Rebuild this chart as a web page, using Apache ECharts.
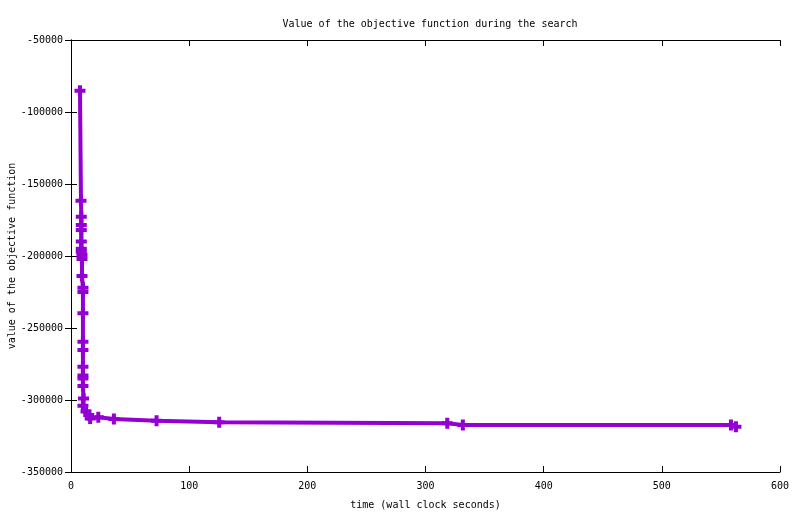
<!DOCTYPE html>
<html>
<head>
<meta charset="utf-8">
<script src="https://cdn.jsdelivr.net/npm/echarts@6/dist/echarts.min.js"></script>
<style>html,body{margin:0;padding:0;background:#fff}#c{width:800px;height:514px}</style>
</head>
<body>
<div id="c"></div>
<script>
const titleText = 'Value of the objective function during the search';
const xName = 'time (wall clock seconds)';
const yName = 'value of the objective function';
const times = [7.6, 8.45, 8.7, 8.7, 8.7, 8.7, 8.7, 8.7, 9.3, 9.3, 9.3, 10.1, 10.1, 10.1, 10.1, 10.1, 10.1, 10.1, 10.1, 10.1, 10.6, 10.1, 12.7, 15.0, 16.2, 23.1, 36.3, 72.4, 125.4, 318.4, 331.6, 558.5, 562.7];
const values = [-85200, -161600, -172700, -178500, -182000, -190000, -195000, -197000, -199300, -202100, -213900, -222000, -225000, -239800, -259500, -265300, -276900, -283000, -285000, -290300, -299000, -304000, -308000, -310500, -312800, -312000, -313200, -314400, -315500, -316200, -317400, -317400, -318500];
const xTicks = {min: 0, max: 600, interval: 100};
const yTicks = {min: -350000, max: -50000, interval: 50000};

const data = times.map((t, i) => [t, values[i]]);
const font = '"DejaVu Sans Mono", "Liberation Mono", monospace';
const chart = echarts.init(document.getElementById('c'));
const axLine = {show: true, lineStyle: {color: '#000', width: 1}};
const tick = {show: true, inside: true, length: 6, lineStyle: {color: '#000', width: 1}};
const plain = v => String(v);
chart.setOption({
  animation: false,
  backgroundColor: '#fff',
  title: {text: titleText, left: 425, top: 14, textAlign: 'center',
    textStyle: {fontFamily: font, fontSize: 10, fontWeight: 'normal', color: '#000'}},
  grid: {left: 71, right: 20, top: 40, bottom: 42, containLabel: false, outerBoundsMode: 'none'},
  graphic: [{
    type: 'text', x: 12, y: 256, rotation: Math.PI / 2,
    style: {text: yName, fontFamily: font, fontSize: 10, fill: '#000', align: 'center', verticalAlign: 'middle'}
  }],
  xAxis: [
    {type: 'value', min: xTicks.min, max: xTicks.max, interval: xTicks.interval,
      name: xName, nameLocation: 'middle', nameGap: 28,
      nameTextStyle: {fontFamily: font, fontSize: 10, color: '#000'},
      axisLine: axLine, axisTick: tick, splitLine: {show: false},
      axisLabel: {fontFamily: font, fontSize: 10, color: '#000', margin: 9, formatter: plain}},
    {type: 'value', position: 'top', min: xTicks.min, max: xTicks.max, interval: xTicks.interval,
      axisLine: axLine, axisTick: tick, splitLine: {show: false}, axisLabel: {show: false}}
  ],
  yAxis: [
    {type: 'value', min: yTicks.min, max: yTicks.max, interval: yTicks.interval,
      axisLine: axLine, axisTick: tick, splitLine: {show: false},
      axisLabel: {fontFamily: font, fontSize: 10, color: '#000', margin: 8, formatter: plain}},
    {type: 'value', position: 'right', min: yTicks.min, max: yTicks.max, interval: yTicks.interval,
      axisLine: axLine, axisTick: tick, splitLine: {show: false}, axisLabel: {show: false}}
  ],
  series: [{
    type: 'line', data: data, xAxisIndex: 0, yAxisIndex: 0,
    symbol: 'path://M3.5,0H7.5V3.5H11V7.5H7.5V11H3.5V7.5H0V3.5H3.5Z', symbolSize: 11, showAllSymbol: true,
    lineStyle: {color: '#9400D3', width: 4},
    itemStyle: {color: '#9400D3', borderWidth: 0}
  }]
});
</script>
</body>
</html>
